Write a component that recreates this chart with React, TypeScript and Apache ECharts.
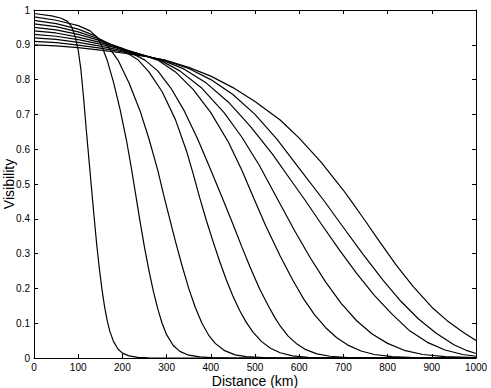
import React, { useEffect, useRef } from "react";
import * as echarts from "echarts";

// Distance (km) / Visibility pairs for each of the ten curves
const c1Dist = [0, 40, 60, 75, 85, 93, 100, 106, 112, 118, 124, 130, 136, 142, 148, 154, 160, 166, 172, 180, 190, 200, 215, 235, 260, 300, 1000];
const c1Vis = [0.99, 0.983, 0.977, 0.968, 0.952, 0.925, 0.885, 0.83, 0.75, 0.66, 0.575, 0.49, 0.405, 0.325, 0.255, 0.195, 0.145, 0.105, 0.075, 0.047, 0.026, 0.014, 0.006, 0.002, 0.0005, 0, 0];

const c2Dist = [0, 50, 100, 127, 140, 150, 165, 180, 195, 210, 220, 230, 240, 250, 260, 270, 280, 290, 300, 315, 330, 350, 375, 400, 450, 1000];
const c2Vis = [0.98, 0.9705, 0.955, 0.94, 0.925, 0.907, 0.858, 0.792, 0.713, 0.62, 0.548, 0.47, 0.392, 0.318, 0.252, 0.192, 0.141, 0.099, 0.067, 0.036, 0.019, 0.008, 0.003, 0.001, 0, 0];

const c3Dist = [0, 50, 100, 140, 165, 190, 215, 240, 260, 280, 293, 305, 320, 335, 350, 365, 380, 395, 410, 430, 455, 480, 520, 560, 1000];
const c3Vis = [0.97, 0.961, 0.945, 0.925, 0.9, 0.856, 0.79, 0.71, 0.63, 0.54, 0.47, 0.41, 0.335, 0.265, 0.2, 0.145, 0.1, 0.066, 0.042, 0.022, 0.009, 0.004, 0.001, 0, 0];

const c4Dist = [0, 50, 100, 150, 200, 236, 260, 290, 320, 345, 360, 375, 390, 405, 420, 435, 450, 465, 480, 495, 515, 535, 557, 585, 620, 680, 1000];
const c4Vis = [0.96, 0.952, 0.937, 0.916, 0.885, 0.856, 0.822, 0.765, 0.685, 0.595, 0.53, 0.46, 0.395, 0.335, 0.278, 0.225, 0.178, 0.137, 0.103, 0.075, 0.047, 0.028, 0.015, 0.006, 0.002, 0, 0];

const c5Dist = [0, 50, 100, 150, 200, 251, 280, 310, 340, 370, 400, 428, 450, 470, 490, 510, 530, 545, 557, 575, 595, 615, 640, 670, 710, 760, 1000];
const c5Vis = [0.95, 0.943, 0.93, 0.912, 0.89, 0.856, 0.825, 0.775, 0.71, 0.63, 0.54, 0.454, 0.385, 0.32, 0.258, 0.2, 0.15, 0.116, 0.092, 0.063, 0.04, 0.024, 0.012, 0.005, 0.0015, 0, 0];

const c6Dist = [0, 50, 100, 150, 200, 250, 280, 320, 360, 400, 440, 470, 498, 525, 557, 585, 610, 635, 660, 685, 710, 740, 770, 810, 860, 920, 1000];
const c6Vis = [0.94, 0.934, 0.922, 0.907, 0.889, 0.869, 0.856, 0.822, 0.772, 0.705, 0.62, 0.54, 0.457, 0.378, 0.293, 0.225, 0.17, 0.124, 0.087, 0.058, 0.037, 0.02, 0.01, 0.004, 0.001, 0, 0];

const c7Dist = [0, 50, 100, 150, 200, 250, 285, 330, 380, 430, 470, 510, 552, 590, 625, 660, 695, 730, 765, 800, 840, 880, 930, 1000];
const c7Vis = [0.93, 0.9246, 0.9147, 0.902, 0.8867, 0.8695, 0.856, 0.825, 0.775, 0.705, 0.635, 0.553, 0.454, 0.365, 0.288, 0.218, 0.157, 0.107, 0.069, 0.042, 0.021, 0.01, 0.004, 0.001];

const c8Dist = [0, 50, 100, 150, 200, 250, 290, 340, 390, 440, 490, 540, 580, 613, 650, 690, 730, 770, 810, 850, 890, 930, 970, 1000];
const c8Vis = [0.92, 0.9154, 0.907, 0.8961, 0.8833, 0.8687, 0.856, 0.83, 0.79, 0.735, 0.665, 0.585, 0.513, 0.454, 0.385, 0.312, 0.243, 0.18, 0.126, 0.078, 0.045, 0.023, 0.01, 0.005];

const c9Dist = [0, 50, 100, 150, 200, 250, 295, 350, 400, 450, 500, 550, 600, 655, 700, 745, 790, 830, 870, 910, 950, 980, 1000];
const c9Vis = [0.91, 0.9062, 0.8993, 0.8904, 0.8798, 0.8678, 0.856, 0.832, 0.8, 0.757, 0.7, 0.628, 0.545, 0.454, 0.375, 0.297, 0.223, 0.163, 0.112, 0.071, 0.038, 0.021, 0.013];

const c10Dist = [0, 50, 100, 150, 200, 250, 300, 350, 400, 450, 500, 557, 600, 650, 700, 715, 750, 783, 820, 858, 900, 934, 970, 1000];
const c10Vis = [0.9, 0.897, 0.8917, 0.8847, 0.8764, 0.867, 0.855, 0.835, 0.81, 0.777, 0.737, 0.684, 0.632, 0.562, 0.482, 0.456, 0.393, 0.332, 0.266, 0.205, 0.146, 0.108, 0.075, 0.05];

const curves: [number[], number[]][] = [
  [c1Dist, c1Vis],
  [c2Dist, c2Vis],
  [c3Dist, c3Vis],
  [c4Dist, c4Vis],
  [c5Dist, c5Vis],
  [c6Dist, c6Vis],
  [c7Dist, c7Vis],
  [c8Dist, c8Vis],
  [c9Dist, c9Vis],
  [c10Dist, c10Vis],
];

const FONT = "'Liberation Sans', Arial, Helvetica, sans-serif";

export default function App() {
  const ref = useRef<HTMLDivElement>(null);
  useEffect(() => {
    const chart = echarts.init(ref.current!, null, { renderer: "svg" });
    const line = { show: true, onZero: false, lineStyle: { color: "#000", width: 1 } };
    const tick = { show: true, inside: true, length: 4, lineStyle: { color: "#000", width: 1 } };
    const fmt = (v: number) => String(Math.round(v * 10) / 10);
    chart.setOption({
      animation: false,
      textStyle: { fontFamily: FONT },
      grid: { left: 34, right: 15, top: 10, bottom: 30, containLabel: false, outerBoundsMode: "none" },
      xAxis: [
        {
          type: "value",
          min: 0,
          max: 1000,
          interval: 100,
          position: "bottom",
          name: "Distance (km)",
          nameLocation: "middle",
          nameGap: 15,
          nameMoveOverlap: false,
          nameTextStyle: { fontSize: 14, lineHeight: 15, color: "#000", fontFamily: FONT },
          axisLine: line,
          axisTick: tick,
          axisLabel: { fontSize: 10, lineHeight: 10, color: "#000", margin: 4, fontFamily: FONT, formatter: fmt },
          splitLine: { show: false },
        },
        {
          type: "value",
          min: 0,
          max: 1000,
          interval: 100,
          position: "top",
          axisLine: line,
          axisTick: tick,
          axisLabel: { show: false },
          splitLine: { show: false },
        },
      ],
      yAxis: [
        {
          type: "value",
          min: 0,
          max: 1,
          interval: 0.1,
          position: "left",
          name: "Visibility",
          nameLocation: "middle",
          nameGap: 18,
          nameMoveOverlap: false,
          nameTextStyle: { fontSize: 14, lineHeight: 15, color: "#000", fontFamily: FONT },
          axisLine: line,
          axisTick: tick,
          axisLabel: { fontSize: 10, color: "#000", margin: 4, fontFamily: FONT, formatter: fmt },
          splitLine: { show: false },
        },
        {
          type: "value",
          min: 0,
          max: 1,
          interval: 0.1,
          position: "right",
          axisLine: line,
          axisTick: tick,
          axisLabel: { show: false },
          splitLine: { show: false },
        },
      ],
      series: curves.map(([d, v], i) => ({
        name: "c" + (i + 1),
        type: "line",
        xAxisIndex: 0,
        yAxisIndex: 0,
        data: d.map((x, j) => [x, v[j]]),
        showSymbol: false,
        smooth: false,
        lineStyle: { color: "#000", width: 1.2 },
        silent: true,
      })),
    });
    return () => chart.dispose();
  }, []);
  return <div ref={ref} style={{ position: "absolute", left: 0, top: 0, width: 491, height: 388 }} />;
}
